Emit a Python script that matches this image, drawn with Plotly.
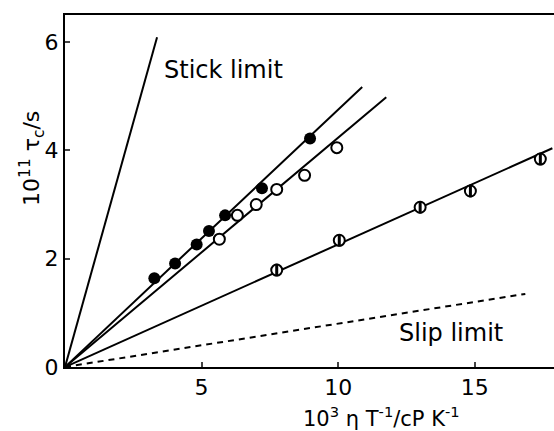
import plotly.graph_objects as go

# Data
filled_x = [3.27, 4.03, 4.82, 5.27, 5.86, 7.21, 8.97]
filled_y = [1.64, 1.91, 2.26, 2.51, 2.80, 3.30, 4.22]
open_x = [5.65, 6.31, 7.00, 7.75, 8.77, 9.95]
open_y = [2.36, 2.80, 3.00, 3.28, 3.54, 4.05]
half_x = [7.75, 10.04, 13.00, 14.84, 17.40]
half_y = [1.79, 2.34, 2.95, 3.25, 3.84]

# fitted lines through the origin (end points)
stick_x = [0, 3.37]
stick_y = [0, 6.09]
filled_line_x = [0, 10.88]
filled_line_y = [0, 5.17]
open_line_x = [0, 11.76]
open_line_y = [0, 4.98]
half_line_x = [0, 17.84]
half_line_y = [0, 4.04]
slip_x = [0, 16.85]
slip_y = [0, 1.35]

x_ticks = [5, 10, 15]
y_ticks = [0, 2, 4, 6]

FONT = "DejaVu Sans"
fig = go.Figure()

line_style = dict(color="black", width=2)
for lx, ly in [(stick_x, stick_y), (filled_line_x, filled_line_y),
               (open_line_x, open_line_y), (half_line_x, half_line_y)]:
    fig.add_trace(go.Scatter(x=lx, y=ly, mode="lines", line=line_style,
                             showlegend=False, hoverinfo="skip"))
fig.add_trace(go.Scatter(x=slip_x, y=slip_y, mode="lines",
                         line=dict(color="black", width=2, dash="6px,5px"),
                         showlegend=False, hoverinfo="skip"))

fig.add_trace(go.Scatter(x=filled_x, y=filled_y, mode="markers",
                         marker=dict(symbol="circle", size=12, color="black"),
                         showlegend=False))
fig.add_trace(go.Scatter(x=open_x, y=open_y, mode="markers",
                         marker=dict(symbol="circle", size=11, color="white",
                                     line=dict(color="black", width=2)),
                         showlegend=False))
fig.add_trace(go.Scatter(x=half_x, y=half_y, mode="markers",
                         marker=dict(symbol="circle", size=11, color="white",
                                     line=dict(color="black", width=2)),
                         showlegend=False))
fig.add_trace(go.Scatter(x=half_x, y=half_y, mode="markers",
                         marker=dict(symbol="line-ns", size=9,
                                     line=dict(color="black", width=3)),
                         showlegend=False))

fig.add_annotation(x=3.55, y=5.48, text="Stick limit", showarrow=False,
                   xanchor="left", yanchor="middle",
                   font=dict(family=FONT, size=24, color="black"))
fig.add_annotation(x=12.15, y=0.63, text="Slip limit", showarrow=False,
                   xanchor="left", yanchor="middle",
                   font=dict(family=FONT, size=24, color="black"))

fig.add_annotation(xref="paper", yref="paper", x=0.648, y=-0.142,
                   text="10<sup>3</sup> η T<sup>-1</sup>/cP K<sup>-1</sup>",
                   showarrow=False, xanchor="center", yanchor="middle",
                   font=dict(family=FONT, size=21, color="black"))
fig.add_annotation(xref="paper", yref="paper", x=-0.0675, y=0.594,
                   text="10<sup>11</sup> τ<sub>c</sub>/s", textangle=-90,
                   showarrow=False, xanchor="center", yanchor="middle",
                   font=dict(family=FONT, size=22, color="black"))

fig.update_layout(
    width=554, height=431,
    margin=dict(l=65, r=0, t=15, b=64),
    paper_bgcolor="white", plot_bgcolor="white",
    font=dict(family=FONT, size=22, color="black"),
)
fig.update_xaxes(range=[0, 17.9], tickvals=x_ticks, ticks="inside",
                 ticklen=5, tickwidth=1.5, showline=True, linewidth=2,
                 linecolor="black", mirror=True, showgrid=False,
                 zeroline=False, automargin=False)
fig.update_yaxes(range=[0, 6.5], tickvals=y_ticks, ticks="inside",
                 ticklen=5, tickwidth=1.5, showline=True, linewidth=2,
                 linecolor="black", showgrid=False, zeroline=False,
                 automargin=False)

fig.write_html(
    "out.html",
    config={"displayModeBar": False},
    post_script="document.body.style.margin='0';"
                "document.body.style.overflow='hidden';",
)
